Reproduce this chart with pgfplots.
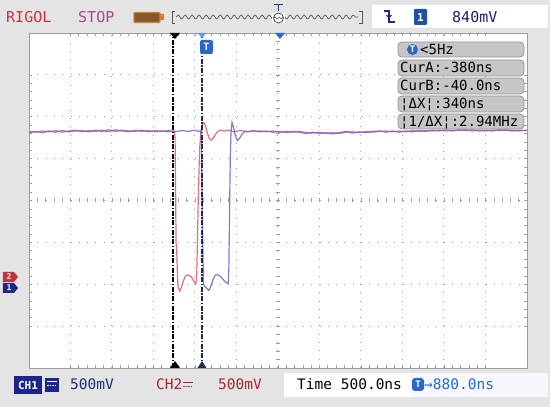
\documentclass[border=0pt]{standalone}
\usepackage{fontspec}
\setmainfont{DejaVu Sans Mono}
\usepackage{pgfplots}
\pgfplotsset{compat=1.18}
\usetikzlibrary{decorations.pathmorphing,calc,backgrounds}

\definecolor{bgc}{HTML}{E4E4E4}
\definecolor{gridc}{HTML}{9C9C9C}
\definecolor{chone}{HTML}{6A62D4}
\definecolor{chtwo}{HTML}{E2707C}
\definecolor{rigol}{HTML}{C8323C}
\definecolor{stopc}{HTML}{B040A0}
\definecolor{navy}{HTML}{1E2A80}
\definecolor{darkred}{HTML}{A02830}
\definecolor{tblue}{HTML}{2A68C8}
\definecolor{curbox}{HTML}{C6C6C6}
\definecolor{curline}{HTML}{1E2A50}
\newcommand\fs[1]{\fontsize{#1}{#1}\selectfont}

\begin{document}
\begin{tikzpicture}[x=1pt,y=1pt]
\begin{axis}[name=ax,
  width=498pt, height=335pt, scale only axis,
  xmin=-2120, xmax=3880, ymin=-4, ymax=4,
  axis background/.style={fill=white},
  axis line style={draw=gridc},
  xtick={-1620,-1120,...,3380}, ytick={-3,...,3},
  xticklabels={}, yticklabels={},
  minor x tick num=4, minor y tick num=4,
  tick pos=both, tick align=inside,
  major tick length=3pt, minor tick length=3pt,
  tick style={gridc, line width=0.6pt},
  grid=major,
  major grid style={gridc, line width=1pt, dash pattern=on 1pt off 7.3pt},
  clip=true]
% CH2 (red)
\addplot[chtwo, line width=1.2pt] coordinates {
(-2120,1.65) (-2040,1.63) (-1960,1.66) (-1880,1.64) (-1800,1.67) (-1720,1.63)
(-1640,1.66) (-1560,1.68) (-1480,1.64) (-1400,1.67) (-1320,1.65) (-1240,1.68)
(-1160,1.64) (-1080,1.69) (-1000,1.66) (-920,1.64) (-840,1.68) (-760,1.65)
(-680,1.67) (-600,1.64) (-520,1.66) (-440,1.64) (-370,1.66)
(-360,1.5) (-354,0.3) (-348,-1.0) (-340,-1.22) (-334,-1.6) (-326,-2.05)
(-305,-2.16) (-285,-2.08) (-260,-1.92) (-235,-1.8) (-200,-1.78) (-165,-1.82)
(-135,-1.93) (-108,-1.98) (-98,-1.7) (-90,-0.9) (-82,-0.1) (-72,0.7) (-62,1.3)
(-48,1.65) (-30,1.82) (-12,1.86) (8,1.78) (30,1.6) (55,1.47) (80,1.44)
(110,1.52) (140,1.62) (180,1.68) (230,1.66) (290,1.68) (350,1.64) (420,1.67)
(500,1.65) (580,1.65) (660,1.66) (740,1.64) (820,1.66) (900,1.63) (980,1.65)
(1060,1.63) (1140,1.65) (1220,1.62) (1300,1.61) (1380,1.63) (1460,1.60)
(1540,1.62) (1620,1.60) (1700,1.63) (1780,1.64) (1860,1.62) (1940,1.65)
(2020,1.63) (2100,1.65) (2180,1.66) (2260,1.64) (2340,1.66) (2420,1.64)
(2500,1.67) (2580,1.65) (2660,1.67) (2740,1.66) (2820,1.68) (2900,1.66)
(2980,1.68) (3060,1.67) (3140,1.69) (3220,1.66) (3300,1.68) (3380,1.66)
(3460,1.68) (3540,1.67) (3620,1.69) (3700,1.66) (3780,1.68) (3880,1.67)
};
% CH1 (blue)
\addplot[chone, line width=1.2pt, opacity=0.85] coordinates {
(-2120,1.62) (-2040,1.65) (-1960,1.62) (-1880,1.66) (-1800,1.63) (-1720,1.67)
(-1640,1.64) (-1560,1.66) (-1480,1.67) (-1400,1.64) (-1320,1.68) (-1240,1.65)
(-1160,1.69) (-1080,1.65) (-1000,1.68) (-920,1.66) (-840,1.65) (-760,1.68)
(-680,1.64) (-600,1.67) (-520,1.65) (-440,1.67) (-360,1.64) (-280,1.67)
(-200,1.65) (-130,1.68) (-80,1.65) (-48,1.67)
(-42,1.3) (-37,0.6) (-32,-0.2) (-27,-0.9) (-22,-1.5) (-16,-2.0) (0,-2.06)
(25,-2.1) (48,-2.15) (70,-2.05) (95,-1.9) (125,-1.78) (155,-1.77) (190,-1.82)
(225,-1.9) (255,-1.96) (280,-1.98) (288,-1.6) (294,-0.7) (300,0.3) (306,1.1)
(314,1.65) (326,1.86) (345,1.74) (365,1.55) (390,1.43) (415,1.48) (445,1.58)
(480,1.65) (520,1.64) (580,1.67) (660,1.64) (740,1.66) (820,1.63) (900,1.65)
(980,1.62) (1060,1.65) (1140,1.63) (1220,1.60) (1300,1.63) (1380,1.60)
(1460,1.62) (1540,1.59) (1620,1.62) (1700,1.65) (1780,1.61) (1860,1.64)
(1940,1.62) (2020,1.65) (2100,1.66) (2180,1.63) (2260,1.66) (2340,1.63)
(2420,1.66) (2500,1.64) (2580,1.67) (2660,1.65) (2740,1.68) (2820,1.66)
(2900,1.69) (2980,1.66) (3060,1.69) (3140,1.67) (3220,1.69) (3300,1.66)
(3380,1.68) (3460,1.66) (3540,1.69) (3620,1.67) (3700,1.68) (3780,1.66)
(3880,1.68)
};
% cursors
\draw[black, line width=2pt, dash pattern=on 5pt off 1.5pt on 1.5pt off 1.5pt]
  (axis cs:-380,-4) -- (axis cs:-380,4);
\draw[curline, line width=2pt, dash pattern=on 5pt off 1.5pt on 1.5pt off 1.5pt]
  (axis cs:-40,-4) -- (axis cs:-40,4);
\end{axis}

\coordinate (O) at ($(ax.south west)+(-29,-39)$);
\pgfresetboundingbox
\path[use as bounding box] (O) rectangle ($(O)+(550,407)$);
\begin{pgfonlayer}{background}
\fill[bgc] (O) rectangle ($(O)+(550,407)$);
\end{pgfonlayer}

\begin{scope}[shift={($(O)+(0,407)$)}, yscale=-1]
% centre cross ticks
\foreach \k in {0,...,40} {
  \draw[gridc, line width=0.6pt] (276,{33+\k*8.375}) -- (280,{33+\k*8.375});
}
\foreach \k in {0,...,60} {
  \draw[gridc, line width=0.6pt] ({29+\k*8.3},198.5) -- ({29+\k*8.3},202.5);
}
% cursor / trigger markers
\fill[black] (170,33) -- (180,33) -- (175,39) -- cycle;
\fill[tblue!70] (197.5,33) -- (206.5,33) -- (202,38) -- cycle;
\fill[tblue] (275,33) -- (285,33) -- (280,39) -- cycle;
\fill[tblue, rounded corners=2pt] (200,40) rectangle (213,54);
\node[text=white, font=\fs{10}\bfseries] at (206.5,47) {T};
\fill[black] (170,368) -- (180,368) -- (175,361) -- cycle;
\fill[curline] (197.5,368) -- (206.5,368) -- (202,361) -- cycle;

% channel markers
\fill[rigol] (3,272) -- (14,272) -- (18,277) -- (14,282) -- (3,282) -- cycle;
\node[text=white, font=\fs{8}\bfseries] at (9,277) {2};
\fill[navy] (3,283) -- (14,283) -- (18,288) -- (14,293) -- (3,293) -- cycle;
\node[text=white, font=\fs{8}\bfseries] at (9,288) {1};

% cursor readout boxes
\foreach \a/\b in {42/57, 60/76, 78/94, 96/112, 114/129} {
  \draw[curbox!75!black, fill=curbox, rounded corners=4pt, line width=0.8pt]
    (398,\a) rectangle (524,\b);
}
\fill[tblue] (412.5,49.5) circle (5.5pt);
\node[text=white, font=\fs{9}\bfseries] at (412.5,49.5) {T};
\node[anchor=base west, inner sep=0, font=\fs{14}] at (420,55) {<5Hz};
\node[anchor=base west, inner sep=0, font=\fs{14}] at (400,73) {CurA:-380ns};
\node[anchor=base west, inner sep=0, font=\fs{14}] at (400,91) {CurB:-40.0ns};
\node[anchor=base west, inner sep=0, font=\fs{14}] at (400,109) {¦ΔX¦:340ns};
\node[anchor=base west, inner sep=0, font=\fs{14}] at (400,127) {¦1/ΔX¦:2.94MHz};

% top bar
\node[anchor=base west, inner sep=0, text=rigol, font=\fs{15}] at (6,23) {RIGOL};
\node[anchor=base west, inner sep=0, text=stopc, font=\fs{15}] at (78,23) {STOP};
\draw[draw=brown!70!orange, fill=brown!70!black, line width=1.2pt, rounded corners=1pt]
  (134,12.5) rectangle (160,22.5);
\fill[brown!70!orange] (160,14.5) rectangle (164,20.5);
\draw[gray!70!black, line width=0.8pt] (175,11) -- (172,11) -- (172,23) -- (175,23);
\draw[gray!70!black, line width=0.8pt] (359,11) -- (362,11) -- (362,23) -- (359,23);
\draw[gray!70!black, line width=0.7pt, decorate,
  decoration={snake, amplitude=2pt, segment length=7pt}] (176,17) -- (358,17);
\fill[white] (272,13) rectangle (285,23);
\draw[gray!60!black, line width=0.8pt] (278.5,18) circle (5pt);
\draw[gray!60!black, line width=0.6pt, decorate,
  decoration={snake, amplitude=1pt, segment length=4pt}] (274,18) -- (283,18);
\draw[tblue!60!black, line width=1pt] (274,4.5) -- (283,4.5) (278.5,4.5) -- (278.5,11);
\fill[white] (372,5) rectangle (548,28);
\draw[navy, line width=1.3pt] (384,11) -- (389,11) -- (389,22) -- (395,22);
\draw[navy, line width=1pt] (386.5,15) -- (389,18) -- (391.5,15);
\fill[tblue!80!black, rounded corners=1pt] (414,9) rectangle (427,25);
\node[text=white, font=\fs{11}\bfseries] at (420.5,17) {1};
\node[anchor=base west, inner sep=0, text=navy!80!black, font=\fs{15}] at (452,23) {840mV};

% bottom bar
\fill[navy!90!blue] (14,376) rectangle (42,394);
\node[text=white, font=\fs{11}\bfseries] at (28,385) {CH1};
\fill[navy!90!blue] (45,378) rectangle (59,392);
\draw[white, line width=1pt] (47,382) -- (57,382);
\draw[white, line width=1pt, dash pattern=on 1.5pt off 1pt] (47,386) -- (57,386);
\node[anchor=base west, inner sep=0, text=navy, font=\fs{14.5}] at (70,390) {500mV};
\node[anchor=base west, inner sep=0, text=darkred, font=\fs{14.5}] at (156,390) {CH2};
\draw[darkred, line width=0.9pt] (183,382) -- (193,382);
\draw[darkred, line width=0.9pt, dash pattern=on 1.5pt off 1pt] (183,386) -- (193,386);
\node[anchor=base west, inner sep=0, text=darkred, font=\fs{14.5}] at (218,390) {500mV};
\fill[white] (284,373) rectangle (410,397);
\node[anchor=base west, inner sep=0, text=black, font=\fs{14.5}] at (297,390) {Time 500.0ns};
\fill[blue!3!white] (410,373) rectangle (548,397);
\fill[tblue, rounded corners=3pt] (412,378) rectangle (424,391);
\node[text=white, font=\fs{9}\bfseries] at (418,384.5) {T};
\node[anchor=base west, inner sep=0, text=tblue, font=\fs{14.5}] at (424,390) {→880.0ns};
\end{scope}
\end{tikzpicture}
\end{document}
